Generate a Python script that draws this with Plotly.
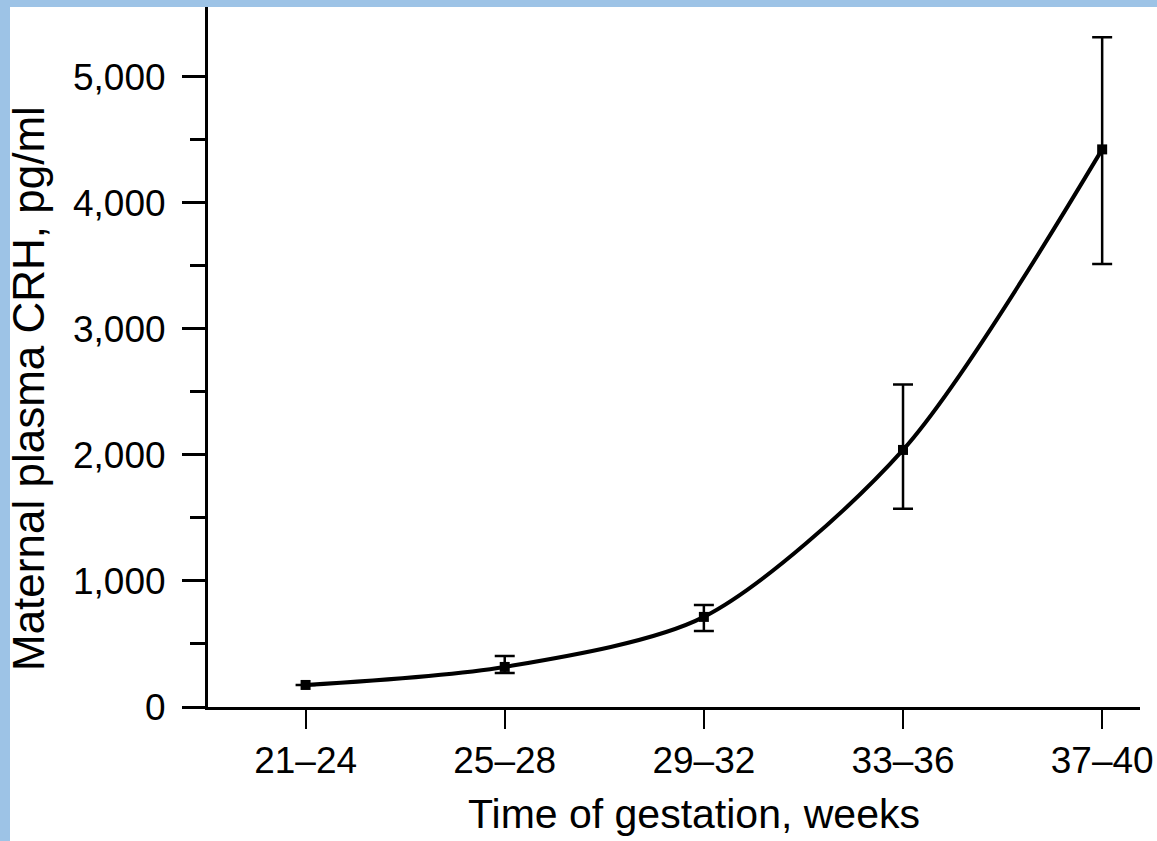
import plotly.graph_objects as go

categories = ["21-24", "25-28", "29-32", "33-36", "37-40"]
crh_mean = [175, 318, 715, 2040, 4425]
err_plus = [0, 87, 95, 520, 890]
err_minus = [0, 48, 112, 466, 910]
y_tickvals = [0, 1000, 2000, 3000, 4000, 5000]
y_ticktext = ["0", "1,000", "2,000", "3,000", "4,000", "5,000"]
x_ticktext = ["21–24", "25–28", "29–32", "33–36", "37–40"]

W, H = 1157, 841
ML, MR, MT, MB = 208, 17, 7, 134
PW, PH = W - ML - MR, H - MT - MB

FONT = "Liberation Sans, Arial, sans-serif"

fig = go.Figure()
fig.add_trace(go.Scatter(
    x=categories, y=crh_mean,
    mode="lines+markers",
    line=dict(color="black", width=4, shape="spline", smoothing=0.8),
    marker=dict(symbol="square", size=10, color="black"),
    error_y=dict(type="data", symmetric=False, array=err_plus, arrayminus=err_minus,
                 color="black", thickness=2.5, width=10),
    showlegend=False,
    cliponaxis=False,
))

fig.update_layout(
    width=W, height=H,
    margin=dict(l=ML, r=MR, t=MT, b=MB, pad=0, autoexpand=False),
    paper_bgcolor="#9DC3E6",
    plot_bgcolor="rgba(0,0,0,0)",
    font=dict(family=FONT, color="black", size=38),
    shapes=[dict(type="rect", xref="paper", yref="paper", layer="below",
                 x0=-(ML - 10) / PW, x1=1 + (MR + 5) / PW,
                 y0=-(MB + 5) / PH, y1=1.0,
                 fillcolor="white", line=dict(width=0))],
    xaxis=dict(
        type="category",
        range=[-0.49, 4.19],
        automargin=False,
        tickmode="array", tickvals=categories, ticktext=x_ticktext,
        ticks="outside", ticklen=19, tickwidth=2, tickcolor="black",
        ticklabelstandoff=0,
        showline=True, linecolor="black", linewidth=3,
        showgrid=False, zeroline=False,
        tickfont=dict(size=37),
    ),
    yaxis=dict(
        range=[0, 5555],
        automargin=False,
        tickmode="array", tickvals=y_tickvals, ticktext=y_ticktext,
        ticks="outside", ticklen=23, tickwidth=3, tickcolor="black",
        ticklabelstandoff=9,
        minor=dict(tickmode="array", tickvals=[500, 1500, 2500, 3500, 4500],
                   ticks="outside", ticklen=15, tickwidth=3, tickcolor="black"),
        showline=True, linecolor="black", linewidth=3,
        showgrid=False, zeroline=False,
        tickfont=dict(size=37),
    ),
    annotations=[
        dict(text="Time of gestation, weeks", xref="paper", yref="paper",
             x=(694 - ML) / PW, y=-(814 - (MT + PH)) / PH,
             xanchor="center", yanchor="middle", showarrow=False,
             font=dict(size=41)),
        dict(text="Maternal plasma CRH, pg/ml", xref="paper", yref="paper",
             x=-(ML - 28) / PW, y=(MT + PH - 389) / PH,
             xanchor="center", yanchor="middle", showarrow=False, textangle=-90,
             font=dict(size=44)),
    ],
)

fig.write_html(
    "out.html",
    config={"displayModeBar": False},
    post_script="document.body.style.margin='0';document.body.style.overflow='hidden';",
)
